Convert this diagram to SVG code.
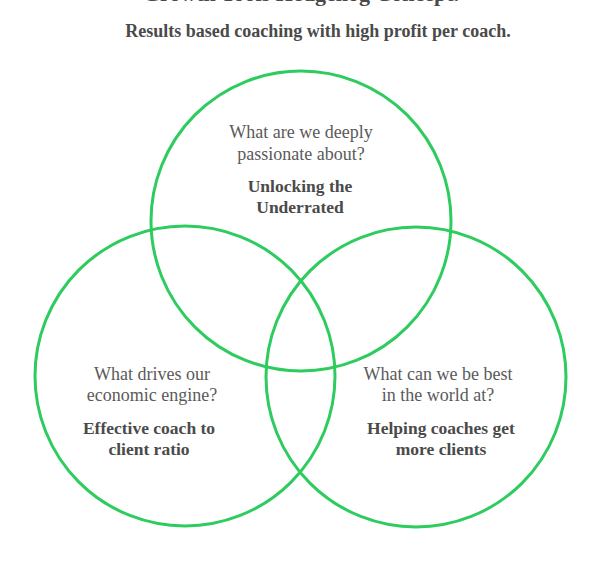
<svg xmlns="http://www.w3.org/2000/svg" width="600" height="578" viewBox="0 0 600 578">
<style>
.c{fill:none;stroke:#2ecc5f;stroke-width:3}
.q{font-family:"Liberation Serif","DejaVu Serif",serif;font-size:18px;fill:#5a5a5a;text-anchor:middle}
.a{font-family:"Liberation Serif","DejaVu Serif",serif;font-size:17.5px;font-weight:bold;fill:#4a4a4a;text-anchor:middle}
.t{font-family:"Liberation Serif","DejaVu Serif",serif;font-weight:bold;fill:#4a4a4a;text-anchor:middle}
</style>
<rect width="600" height="578" fill="#fff"/>
<text class="t" x="301" y="1" font-size="22">Growth Tools Hedgehog Concept.</text>
<text class="t" x="318" y="37" font-size="18">Results based coaching with high profit per coach.</text>
<g id="connectors"></g>
<g id="passion">
<circle class="c" cx="301" cy="221" r="150"/>
<text class="q" x="301" y="138">What are we deeply</text>
<text class="q" x="301" y="160">passionate about?</text>
<text class="a" x="300" y="192">Unlocking the</text>
<text class="a" x="300" y="213">Underrated</text>
</g>
<g id="economic">
<circle class="c" cx="185" cy="376" r="150"/>
<text class="q" x="152" y="380">What drives our</text>
<text class="q" x="152" y="401">economic engine?</text>
<text class="a" x="149" y="434">Effective coach to</text>
<text class="a" x="149" y="455">client ratio</text>
</g>
<g id="best">
<circle class="c" cx="416" cy="377" r="150"/>
<text class="q" x="438" y="380">What can we be best</text>
<text class="q" x="438" y="401">in the world at?</text>
<text class="a" x="441" y="434">Helping coaches get</text>
<text class="a" x="441" y="455">more clients</text>
</g>
</svg>
